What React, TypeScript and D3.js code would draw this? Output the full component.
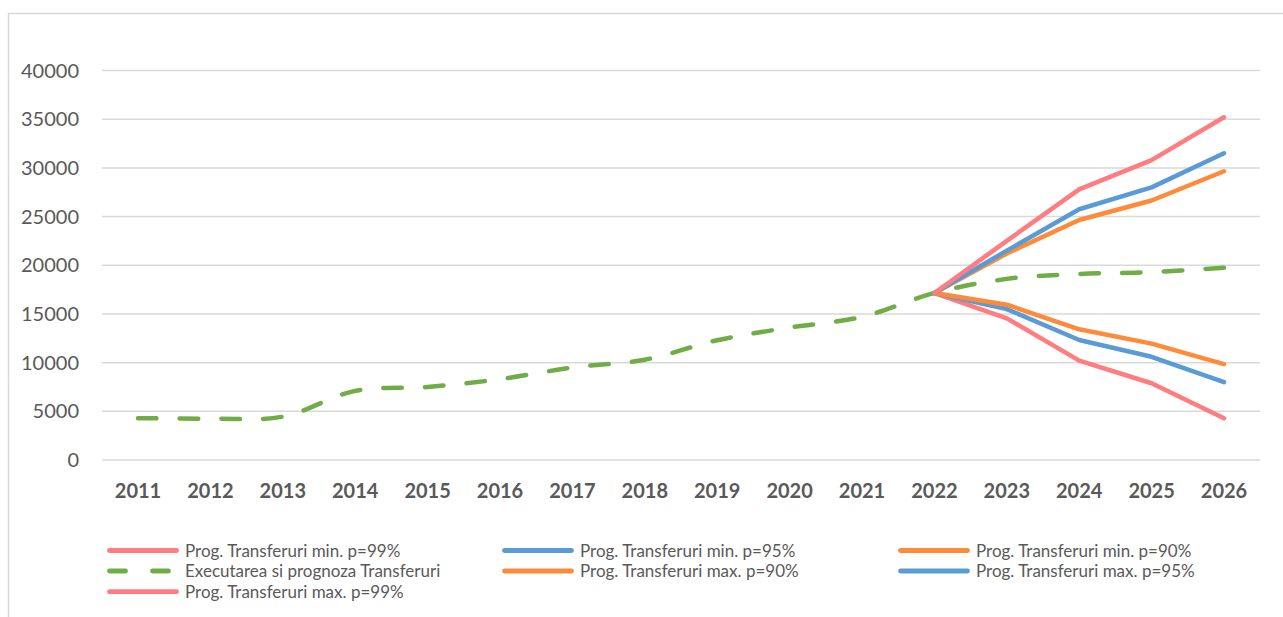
import React, { useEffect, useRef } from 'react';
import * as d3 from 'd3';

const years = ['2011', '2012', '2013', '2014', '2015', '2016', '2017', '2018', '2019', '2020', '2021', '2022', '2023', '2024', '2025', '2026'];
const forecastYears = ['2022', '2023', '2024', '2025', '2026'];

const executed = [4300, 4250, 4450, 7100, 7500, 8300, 9500, 10300, 12300, 13600, 14700, 17150, 18600, 19100, 19300, 19750];
const minP99 = [17150, 14550, 10200, 7880, 4280];
const minP95 = [17150, 15500, 12320, 10600, 8000];
const minP90 = [17150, 15950, 13420, 11950, 9850];
const maxP90 = [17150, 21200, 24650, 26650, 29650];
const maxP95 = [17150, 21500, 25750, 28000, 31500];
const maxP99 = [17150, 22500, 27800, 30800, 35200];

const yTicks = [0, 5000, 10000, 15000, 20000, 25000, 30000, 35000, 40000];

const RED = '#FF7C80';
const BLUE = '#5B9BD5';
const ORANGE = '#FF8B3A';
const GREEN = '#70AD47';

type Series = { name: string; color: string; dashed: boolean; xs: string[]; values: number[] };

const series: Series[] = [
  { name: 'Prog. Transferuri min. p=99%', color: RED, dashed: false, xs: forecastYears, values: minP99 },
  { name: 'Prog. Transferuri min. p=95%', color: BLUE, dashed: false, xs: forecastYears, values: minP95 },
  { name: 'Prog. Transferuri min. p=90%', color: ORANGE, dashed: false, xs: forecastYears, values: minP90 },
  { name: 'Executarea si prognoza Transferuri', color: GREEN, dashed: true, xs: years, values: executed },
  { name: 'Prog. Transferuri max. p=90%', color: ORANGE, dashed: false, xs: forecastYears, values: maxP90 },
  { name: 'Prog. Transferuri max. p=95%', color: BLUE, dashed: false, xs: forecastYears, values: maxP95 },
  { name: 'Prog. Transferuri max. p=99%', color: RED, dashed: false, xs: forecastYears, values: maxP99 },
];

const W = 1283;
const H = 617;

export default function App() {
  const ref = useRef<SVGSVGElement | null>(null);

  useEffect(() => {
    const svg = d3.select(ref.current);
    svg.selectAll('*').remove();

    const x = d3.scalePoint<string>().domain(years).range([138, 1224]);
    const y = d3.scaleLinear().domain([0, 40000]).range([460, 70.5]);

    // chart frame
    svg.append('rect')
      .attr('x', 8.5).attr('y', 13.5)
      .attr('width', W + 20).attr('height', H + 20)
      .attr('fill', 'none').attr('stroke', '#d9d9d9').attr('stroke-width', 1.5);

    const grid = svg.append('g');
    grid.selectAll('line')
      .data(yTicks)
      .join('line')
      .attr('x1', 102).attr('x2', 1260)
      .attr('y1', (d) => y(d)).attr('y2', (d) => y(d))
      .attr('stroke', '#d9d9d9').attr('stroke-width', 1.5);

    svg.append('g')
      .selectAll('text')
      .data(yTicks)
      .join('text')
      .attr('x', 79)
      .attr('y', (d) => y(d) + 7)
      .attr('text-anchor', 'end')
      .attr('font-family', 'Lato, sans-serif')
      .attr('font-size', 20)
      .attr('fill', '#595959')
      .text((d) => String(d));

    svg.append('g')
      .selectAll('text')
      .data(years)
      .join('text')
      .attr('x', (d) => x(d)!)
      .attr('y', 498)
      .attr('text-anchor', 'middle')
      .attr('font-family', 'Lato, sans-serif')
      .attr('font-weight', 'bold')
      .attr('font-size', 20)
      .attr('fill', '#595959')
      .text((d) => d);

    const plot = svg.append('g');
    series.forEach((s) => {
      const pts: [number, number][] = s.values.map((v, i) => [x(s.xs[i])!, y(v)]);
      const line = d3.line().curve(s.dashed ? d3.curveCatmullRom.alpha(0.5) : d3.curveLinear);
      plot.append('path')
        .attr('d', line(pts))
        .attr('fill', 'none')
        .attr('stroke', s.color)
        .attr('stroke-width', 4.5)
        .attr('stroke-linecap', 'round')
        .attr('stroke-linejoin', 'round')
        .attr('stroke-dasharray', s.dashed ? '18.5 23.2' : null);
    });

    // legend
    const cols = [107, 502, 898];
    const rows = [550.5, 571, 591.7];
    const legend = svg.append('g');
    series.forEach((s, i) => {
      const cx = cols[i % 3];
      const cy = rows[Math.floor(i / 3)];
      const g = legend.append('g');
      g.append('line')
        .attr('x1', cx + 2.5).attr('x2', s.dashed ? cx + 63.5 : cx + 69.5)
        .attr('y1', cy).attr('y2', cy)
        .attr('stroke', s.color)
        .attr('stroke-width', 4.8)
        .attr('stroke-linecap', 'round')
        .attr('stroke-dasharray', s.dashed ? '16 27' : null);
      g.append('text')
        .attr('x', cx + 78)
        .attr('y', cy + 6)
        .attr('font-family', 'Lato, sans-serif')
        .attr('font-size', 17)
        .attr('fill', '#595959')
        .text(s.name);
    });
  }, []);

  return (
    <svg
      ref={ref}
      width={W}
      height={H}
      style={{ position: 'absolute', left: 0, top: 0, background: '#fff' }}
    />
  );
}
